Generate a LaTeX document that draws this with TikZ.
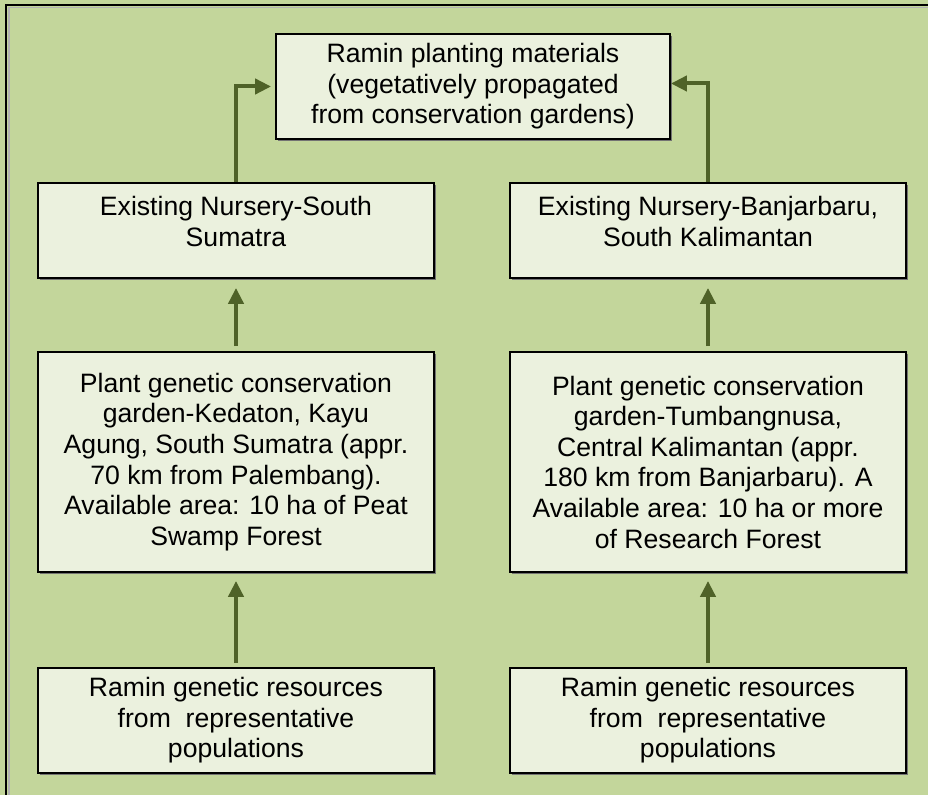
\documentclass[tikz,border=0pt]{standalone}
\usepackage{fontspec}
\setmainfont{Liberation Sans}
\usetikzlibrary{arrows.meta,shadows}
\definecolor{bg}{HTML}{C3D69B}
\definecolor{boxfill}{HTML}{EBF1DE}
\definecolor{arrowc}{HTML}{4F6228}
\newcommand{\liftup}[2]{\raisebox{#1}[\height][\depth]{\begin{tabular}{@{}c@{}}#2\end{tabular}}}
\begin{document}
\begin{tikzpicture}[x=0.5pt,y=-0.5pt,
  box/.style={draw=black, line width=0.9pt, fill=boxfill, align=center,
    font=\fontsize{13.3}{15.3}\selectfont, inner sep=0pt,
    drop shadow={shadow xshift=0.9pt, shadow yshift=-0.9pt, fill=black!55, opacity=1}},
  arr/.style={draw=arrowc, line width=2pt, -{Triangle[length=8pt,width=7.5pt]}}]
\useasboundingbox (0,0) rectangle (928,795);
\fill[bg] (0,0) rectangle (928,795);
\fill[black!30] (8,7) rectangle (940,810);
\fill[bg] (9.5,8.5) rectangle (940,810);
\draw[line width=1.1pt] (6,5) rectangle (940,810);
\node[box, minimum width=197pt, minimum height=52.5pt] (top) at (473,86.5)
  {Ramin planting materials\\(vegetatively propagated\\from conservation gardens)};
\node[box, minimum width=198pt, minimum height=47.5pt] (nurL) at (236,230.5)
  {\liftup{2.75pt}{Existing Nursery-South\\Sumatra}};
\node[box, minimum width=198pt, minimum height=47.5pt] (nurR) at (708,230.5)
  {\liftup{2.75pt}{Existing Nursery-Banjarbaru,\\South Kalimantan}};
\node[box, minimum width=198pt, minimum height=110pt] (plantL) at (236,462)
  {Plant genetic conservation\\garden-Kedaton, Kayu\\Agung, South Sumatra (appr.\\70 km from Palembang).\\Available area: 10 ha of Peat\\Swamp Forest};
\node[box, minimum width=198pt, minimum height=110pt] (plantR) at (708,462)
  {Plant genetic conservation\\garden-Tumbangnusa,\\Central Kalimantan (appr.\\180 km from Banjarbaru). A\\Available area: 10 ha or more\\of Research Forest};
\node[box, minimum width=198pt, minimum height=52.5pt] (resL) at (236,720.5)
  {Ramin genetic resources\\from\ \ representative\\populations};
\node[box, minimum width=198pt, minimum height=52.5pt] (resR) at (708,720.5)
  {Ramin genetic resources\\from\ \ representative\\populations};
\draw[arr, shorten >=2pt] (nurL.north) |- (top.west);
\draw[arr, shorten >=0pt] (nurR.north) |- ([yshift=1.5pt]top.east);
\draw[arr, shorten <=2.5pt, shorten >=4.5pt] (plantL.north) -- (nurL.south);
\draw[arr, shorten <=2.5pt, shorten >=4.5pt] (plantR.north) -- (nurR.south);
\draw[arr, shorten <=2pt, shorten >=4pt] (resL.north) -- (plantL.south);
\draw[arr, shorten <=2pt, shorten >=4pt] (resR.north) -- (plantR.south);
\end{tikzpicture}
\end{document}
